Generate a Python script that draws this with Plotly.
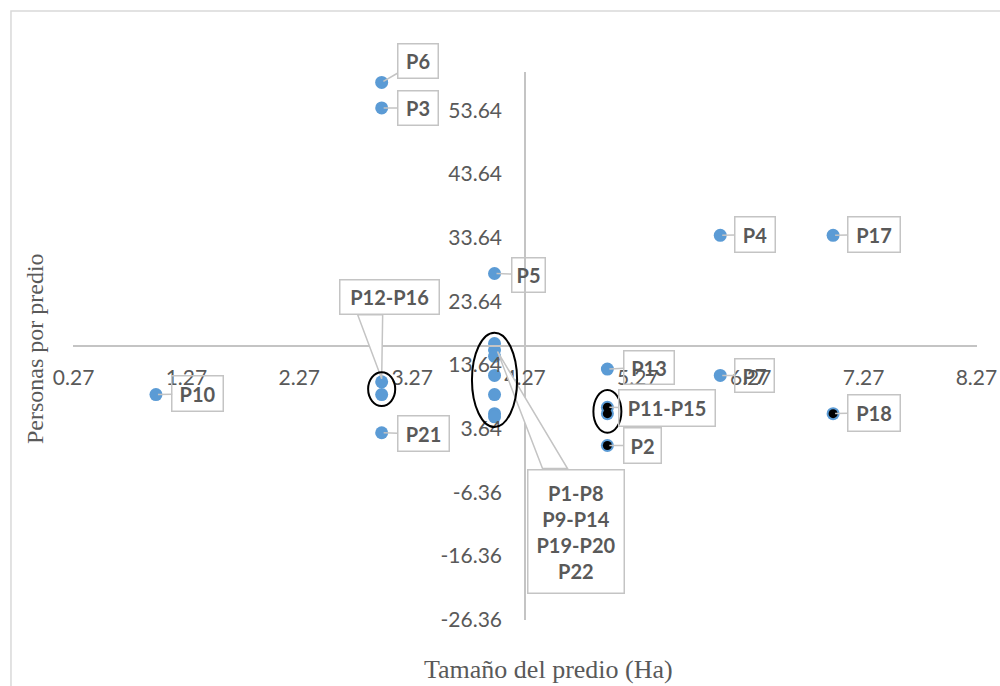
import plotly.graph_objects as go

# ---- data ----
names = ["P1", "P2", "P3", "P4", "P5", "P6", "P7", "P8", "P9", "P10", "P11",
         "P12", "P13", "P14", "P15", "P16", "P17", "P18", "P19", "P20", "P21", "P22"]
size_ha = [4.0, 5.0, 3.0, 6.0, 4.0, 3.0, 6.0, 4.0, 4.0, 1.0, 5.0,
           3.0, 5.0, 4.0, 5.0, 3.0, 7.0, 7.0, 4.0, 4.0, 3.0, 4.0]
persons = [17, 1, 54, 34, 28, 58, 12, 16, 15, 9, 7,
           11, 13, 12, 6, 9, 34, 6, 9, 6, 3, 5.5]
dark_points = ["P2", "P11", "P15", "P18"]

x_ticks = [0.27, 1.27, 2.27, 3.27, 4.27, 5.27, 6.27, 7.27, 8.27]
y_ticks = [-26.36, -16.36, -6.36, 3.64, 13.64, 23.64, 33.64, 43.64, 53.64]
x_tick_labels = [f"{v:.2f}" for v in x_ticks]
y_tick_labels = [f"{v:.2f}" for v in y_ticks]

CLUSTER = "P1-P8<br>P9-P14<br>P19-P20<br>P22"
# label text -> (anchor point name, members of the group)
labels = {
    "P6": ("P6", ["P6"]),
    "P3": ("P3", ["P3"]),
    "P5": ("P5", ["P5"]),
    "P4": ("P4", ["P4"]),
    "P17": ("P17", ["P17"]),
    "P13": ("P13", ["P13"]),
    "P7": ("P7", ["P7"]),
    "P11-P15": ("P11", ["P11", "P15"]),
    "P2": ("P2", ["P2"]),
    "P18": ("P18", ["P18"]),
    "P10": ("P10", ["P10"]),
    "P21": ("P21", ["P21"]),
    "P12-P16": ("P12", ["P12", "P16"]),
    CLUSTER: ("P1", ["P1", "P8", "P9", "P14", "P19", "P20", "P22"]),
}

# ---- styling / label placement (pixels) ----
label_pos = {  # ax, ay, width, height
    "P6": (36, -21, 43, 37),
    "P3": (36, 0, 43, 37),
    "P5": (34, 1, 36, 37),
    "P4": (35, -1, 43, 38),
    "P17": (41, -1, 55, 38),
    "P13": (42, -2, 53, 36),
    "P7": (34, 0, 42, 36),
    "P11-P15": (60, 1, 99, 39),
    "P2": (35, 0, 40, 38),
    "P18": (41, -1, 55, 39),
    "P10": (42, -1, 54, 38),
    "P21": (42, 1, 54, 38),
    "P12-P16": (8, -85, 102, 37),
    CLUSTER: (81, 188, 99, 126),
}
# labels whose leader is a white callout wedge: tip offset and two base offsets (px, y up)
wedges = {
    "P12-P16": [(0, 3), (-24, 67), (1, 67)],
    CLUSTER: [(3, -8), (48, -125), (73, -125)],
}
ellipses = {  # group label -> (half width data, pad above, pad below)
    "P12-P16": (0.12, 1.5, 1.8),
    CLUSTER: (0.2, 1.7, 1.6),
    "P11-P15": (0.124, 2.7, 3.0),
}

BLUE = "#5B9BD5"
GREY_TXT = "#595959"
AXIS_GREY = "#c4c4c4"

idx = {n: i for i, n in enumerate(names)}

fig = go.Figure()
fig.add_trace(go.Scatter(x=size_ha, y=persons, mode="markers",
                         marker=dict(color=BLUE, size=13), hoverinfo="skip",
                         showlegend=False))
fig.add_trace(go.Scatter(x=[size_ha[idx[n]] for n in dark_points],
                         y=[persons[idx[n]] for n in dark_points], mode="markers",
                         marker=dict(color="black", size=9), hoverinfo="skip",
                         showlegend=False))

box_style = dict(bordercolor=AXIS_GREY, borderwidth=1.5, borderpad=0,
                 bgcolor="rgba(255,255,255,0)",
                 font=dict(family="Lato", size=20, color=GREY_TXT))

for text, (anchor, members) in labels.items():
    ax, ay, w, h = label_pos[text]
    i = idx[anchor]
    if text in wedges:
        (t0, t1), (a0, a1), (b0, b1) = wedges[text]
        fig.add_shape(type="path", xref="x", yref="y",
                      xsizemode="pixel", ysizemode="pixel",
                      xanchor=size_ha[i], yanchor=persons[i],
                      path=f"M{t0},{t1} L{a0},{a1} L{b0},{b1} Z",
                      fillcolor="white", line=dict(color=AXIS_GREY, width=1.5),
                      layer="above")
        fig.add_annotation(x=size_ha[i], y=persons[i], text=f"<b>{text}</b>",
                           showarrow=False, xshift=ax, yshift=-ay,
                           xanchor="center", yanchor="middle",
                           width=w - 4, height=h - 4, **box_style)
    else:
        fig.add_annotation(x=size_ha[i], y=persons[i], text=f"<b>{text}</b>",
                           showarrow=True, arrowhead=0, arrowwidth=1.5,
                           arrowcolor=AXIS_GREY, ax=ax, ay=ay, standoff=2,
                           width=w - 4, height=h - 4, **box_style)
    if text in ellipses:
        hw, pa, pb = ellipses[text]
        gx = [size_ha[idx[m]] for m in members]
        gy = [persons[idx[m]] for m in members]
        cx = sum(gx) / len(gx)
        fig.add_shape(type="circle", xref="x", yref="y",
                      x0=cx - hw, x1=cx + hw, y0=min(gy) - pb, y1=max(gy) + pa,
                      line=dict(color="black", width=2), layer="above")

axis_common = dict(showgrid=False, zeroline=False, showline=True,
                   linecolor=AXIS_GREY, linewidth=1.5, ticks="",
                   anchor="free", position=0.5, automargin=False,
                   tickfont=dict(family="Lato", size=21, color=GREY_TXT))

fig.update_layout(
    width=1000, height=686,
    margin=dict(l=73, r=23, t=72, b=66),
    paper_bgcolor="white", plot_bgcolor="white",
    xaxis=dict(range=[0.265, 8.275], tickvals=x_ticks, ticktext=x_tick_labels,
               ticklabelstandoff=13, **axis_common),
    yaxis=dict(range=[-26.4, 59.64], tickvals=y_ticks, ticktext=y_tick_labels,
               ticklabelstandoff=18, **axis_common),
)

# axis titles
fig.add_annotation(xref="paper", yref="paper", x=0.5265, y=-0.0912,
                   xanchor="center", yanchor="middle",
                   text="Tamaño del predio (Ha)", showarrow=False,
                   font=dict(family="Liberation Serif", size=26, color=GREY_TXT))
fig.add_annotation(xref="paper", yref="paper", x=-0.042, y=0.4945,
                   xanchor="center", yanchor="middle",
                   text="Personas por predio", showarrow=False, textangle=-90,
                   font=dict(family="Liberation Serif", size=24, color=GREY_TXT))

# chart border
fig.add_shape(type="rect", xref="paper", yref="paper",
              x0=-0.0686, x1=1.06, y0=-0.2, y1=1.1113,
              line=dict(color="#d9d9d9", width=1.5), layer="below")

fig.write_html("out.html", config={"displayModeBar": False},
               post_script="document.body.style.margin='0';document.body.style.overflow='hidden';")
